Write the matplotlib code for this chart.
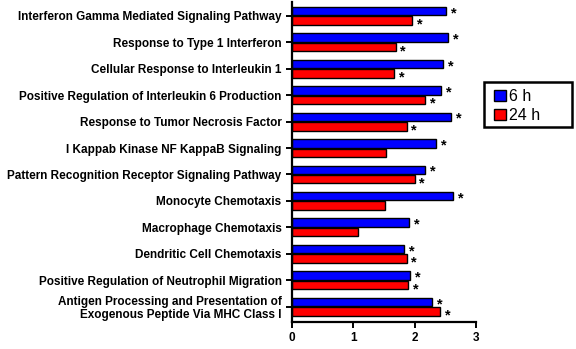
import matplotlib
matplotlib.use("Agg")
import matplotlib.pyplot as plt
import numpy as np
from matplotlib.patches import Patch, Rectangle

categories = [
    "Interferon Gamma Mediated Signaling Pathway",
    "Response to Type 1 Interferon",
    "Cellular Response to Interleukin 1",
    "Positive Regulation of Interleukin 6 Production",
    "Response to Tumor Necrosis Factor",
    "I Kappab Kinase NF KappaB Signaling",
    "Pattern Recognition Receptor Signaling Pathway",
    "Monocyte Chemotaxis",
    "Macrophage Chemotaxis",
    "Dendritic Cell Chemotaxis",
    "Positive Regulation of Neutrophil Migration",
    "Antigen Processing and Presentation of\nExogenous Peptide Via MHC Class I",
]
values_6h = [2.52, 2.54, 2.46, 2.44, 2.59, 2.35, 2.17, 2.63, 1.91, 1.83, 1.93, 2.29]
values_24h = [1.96, 1.69, 1.66, 2.17, 1.87, 1.54, 2.00, 1.51, 1.07, 1.87, 1.90, 2.41]
sig_6h = [True] * 12
sig_24h = [True, True, True, True, True, False, True, False, False, True, True, True]
series_labels = ["6 h", "24 h"]
xticks = [0, 1, 2, 3]

plt.rcParams['font.family'] = ['Liberation Sans', 'DejaVu Sans']
plt.rcParams['font.weight'] = 'bold'

fig = plt.figure(figsize=(5.76, 3.49), dpi=100)
ax = fig.add_axes([0.507, 0.078, 0.319, 0.916])

y = np.arange(len(categories))
h = 0.32
ax.barh(y - h / 2 - 0.02, values_6h, height=h, color="#0000ff", edgecolor="black", linewidth=1.0)
ax.barh(y + h / 2 + 0.02, values_24h, height=h, color="#ff0000", edgecolor="black", linewidth=1.0)

for i in range(len(categories)):
    if sig_6h[i]:
        ax.text(values_6h[i] + 0.08, y[i] - h / 2 - 0.02 + 0.08, "*", ha="left", va="center",
                fontsize=10.5, fontweight="bold")
    if sig_24h[i]:
        ax.text(values_24h[i] + 0.08, y[i] + h / 2 + 0.02 + 0.15, "*", ha="left", va="center",
                fontsize=10.5, fontweight="bold")

ax.set_xlim(0, 3)
ax.set_ylim(len(categories) - 1 + 0.57, -0.52)
ax.set_yticks(y)
ax.set_yticklabels(categories, fontsize=8.5, fontweight="bold", linespacing=1.05)
ax.set_xticks(xticks)
ax.set_xticklabels([str(t) for t in xticks], fontsize=8.5, fontweight="bold")

for s in ["top", "right"]:
    ax.spines[s].set_visible(False)
for s in ["left", "bottom"]:
    ax.spines[s].set_linewidth(1.6)
ax.tick_params(axis="both", width=1.4, length=4.5, direction="out")
ax.tick_params(axis="y", pad=3)
ax.tick_params(axis="x", pad=3)

# legend frame drawn separately (box wider than its content, as in the reference)
fig.patches.append(Rectangle((484 / 576, 1 - 127 / 349), 88 / 576, 45 / 349,
                             transform=fig.transFigure, facecolor="white", edgecolor="black",
                             linewidth=1.8, zorder=1))
handles = [Patch(facecolor="#0000ff", edgecolor="black", linewidth=1.0),
           Patch(facecolor="#ff0000", edgecolor="black", linewidth=1.0)]
leg = fig.legend(handles, series_labels, loc="upper left", bbox_to_anchor=(483 / 576, 1 - 78 / 349),
                 frameon=False, handlelength=0.75, handleheight=0.75,
                 handletextpad=0.2, borderpad=0.2, labelspacing=0.25,
                 prop={"weight": "normal", "size": 11.5})
leg.set_zorder(2)

fig.savefig("out.png", dpi=100)
